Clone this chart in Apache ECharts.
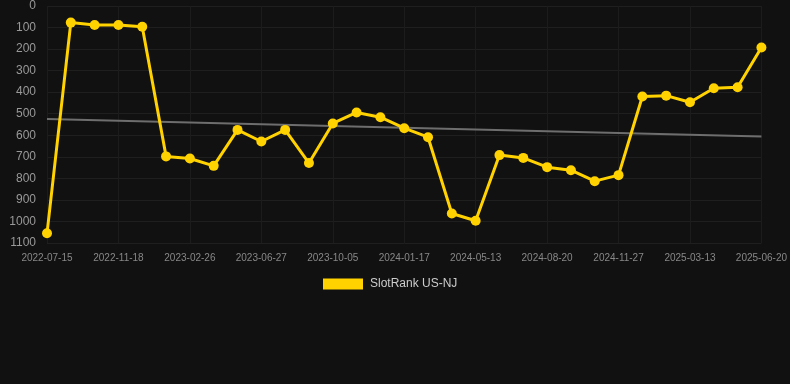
<!DOCTYPE html>
<html lang="en">

<head>
  <meta charset="UTF-8">
  <title>SlotRank US-NJ</title>
  <script src="https://cdn.jsdelivr.net/npm/echarts@6/dist/echarts.min.js"></script>
  <style>
    body { margin: 0; background: #111111; }
  </style>
</head>

<body>
  <div id="main" style="width: 790px;height:384px;"></div>
  <script>
    // dates (only every third one is shown as a label)
    var dates = [
      '2022-07-15', '2022-08-26', '2022-10-07', '2022-11-18', '2022-12-21', '2023-01-23',
      '2023-02-26', '2023-04-07', '2023-05-17', '2023-06-27', '2023-08-02', '2023-09-03',
      '2023-10-05', '2023-11-12', '2023-12-15', '2024-01-17', '2024-02-26', '2024-04-04',
      '2024-05-13', '2024-06-15', '2024-07-18', '2024-08-20', '2024-09-25', '2024-10-24',
      '2024-11-27', '2024-12-31', '2025-02-05', '2025-03-13', '2025-04-18', '2025-05-19',
      '2025-06-20'
    ];

    // rank values
    var ranks = [
      1055, 77, 88, 88, 96, 698,
      708, 742, 575, 629, 575, 729,
      545, 494, 516, 567, 609, 963,
      997, 692, 705, 748, 762, 813,
      785, 420, 416, 447, 382, 377,
      193
    ];

    // trend line ends (first and last date)
    var trendEnds = [525, 606];

    var myChart = echarts.init(document.getElementById('main'));

    var option = {
      backgroundColor: '#111111',
      animation: false,
      grid: {
        left: 47,
        right: 28,
        top: 6,
        bottom: 141
      },
      legend: {
        top: 273,
        left: 318,
        itemWidth: 40,
        itemHeight: 11,
        itemGap: 10,
        icon: 'rect',
        data: ['SlotRank US-NJ'],
        textStyle: { color: '#cccccc', fontSize: 12, fontFamily: 'Liberation Sans', padding: [0, 0, 0, 2] }
      },
      xAxis: {
        type: 'category',
        data: dates,
        boundaryGap: false,
        axisLine: { show: false },
        axisTick: { show: false },
        axisLabel: {
          interval: 2,
          color: '#888888',
          fontSize: 10,
          fontFamily: 'Liberation Sans',
          margin: 10
        },
        splitLine: {
          show: true,
          interval: 2,
          lineStyle: { color: '#1c1c1c', width: 1 }
        }
      },
      yAxis: {
        type: 'value',
        inverse: true,
        min: 0,
        max: 1100,
        interval: 100,
        axisLine: { show: false },
        axisTick: { show: false },
        axisLabel: {
          color: '#999999',
          fontSize: 12,
          fontFamily: 'Liberation Sans',
          margin: 11,
          formatter: function (v) { return String(v); }
        },
        splitLine: {
          lineStyle: { color: '#1f1f1f', width: 1 }
        }
      },
      series: [
        {
          name: 'trend',
          type: 'line',
          data: [[dates[0], trendEnds[0]], [dates[dates.length - 1], trendEnds[1]]],
          showSymbol: false,
          silent: true,
          lineStyle: { color: '#6e6e6e', width: 2 },
          z: 1
        },
        {
          name: 'SlotRank US-NJ',
          type: 'line',
          data: ranks,
          symbol: 'circle',
          symbolSize: 10,
          itemStyle: { color: '#ffd200' },
          lineStyle: { color: '#ffd200', width: 3 },
          z: 2
        }
      ]
    };

    myChart.setOption(option);
  </script>
</body>

</html>
